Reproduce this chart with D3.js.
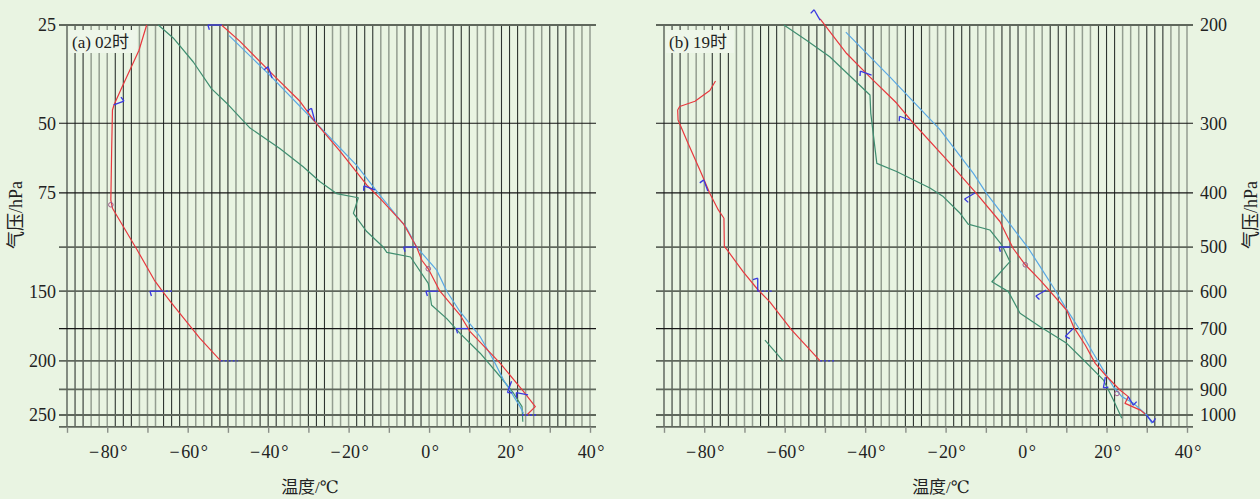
<!DOCTYPE html>
<html>
<head>
<meta charset="utf-8">
<script src="https://cdn.jsdelivr.net/npm/d3@7"></script>
<style>
  body { margin: 0; background: #e9f4e2; }
  svg { display: block; }
  text { font-family: "Liberation Serif", "DejaVu Serif", "Noto Sans CJK SC", serif; fill: #222; }
</style>
</head>
<body>
<svg id="chart" width="1260" height="499"></svg>
<script>
// pressure levels (hPa) and tick labels
var gridPressures = [200, 300, 400, 500, 600, 700, 800, 900, 1000, 1050];
var darkPressures = [300, 400, 700];
var leftLabelLevels = [200, 300, 400, 600, 800, 1000];
var leftLabels = ['25', '50', '75', '150', '200', '250'];
var rightLabelLevels = [200, 300, 400, 500, 600, 700, 800, 900, 1000];
var tempTicks = [-90, -80, -70, -60, -50, -40, -30, -20, -10, 0, 10, 20, 30, 40];
var tempLabels = [-80, -60, -40, -20, 0, 20, 40];

// (a) 02时  [temperature degC, pressure hPa]
var aRedUpper = [[-70.2, 200], [-72.1, 222], [-76.4, 259], [-78.3, 278], [-78.7, 284], [-78.9, 335],
  [-79.1, 412], [-78.7, 426], [-72.7, 504], [-68.3, 573], [-66.3, 600], [-64.0, 630], [-60.3, 680],
  [-57.0, 728], [-51.8, 800]];
var aRed = [[-51.6, 200], [-47.0, 214], [-38.7, 246], [-32.1, 274], [-28.4, 298], [-22.1, 337],
  [-15.5, 387], [-12.2, 409], [-6.3, 455], [-3.1, 500], [-1.8, 528], [-0.2, 547], [2.7, 600],
  [7.7, 662], [10.2, 709], [17.7, 808], [23.5, 908], [26.4, 966], [24.3, 1000]];
var aBlue = [[-49.7, 209], [-39.6, 246], [-28.8, 296], [-18.0, 357], [-12.2, 404], [-5.5, 463],
  [-3.1, 500], [1.9, 550], [4.4, 600], [7.7, 653], [12.7, 724], [16.0, 797], [18.5, 865],
  [22.6, 966], [23.5, 994]];
var aGreen = [[-67.3, 200], [-63.6, 211], [-58.6, 233], [-54.1, 260], [-49.9, 278], [-44.5, 306],
  [-37.1, 333], [-31.3, 359], [-27.1, 382], [-23.0, 401], [-17.6, 408], [-18.8, 435], [-15.5, 469],
  [-11.4, 500], [-10.5, 511], [-4.6, 521], [-0.2, 581], [0.2, 605], [0.6, 635], [4.4, 672],
  [7.7, 714], [12.7, 775], [17.7, 854], [21.0, 914], [23.1, 966], [23.3, 1028]];

// (b) 19时
var bRedUpper = [[-77.2, 252], [-78.6, 262], [-82.3, 274], [-86.1, 280], [-86.6, 284], [-86.5, 296],
  [-84.0, 326], [-80.7, 369], [-78.6, 401], [-76.5, 429], [-75.1, 444], [-75.0, 499], [-74.3, 506],
  [-70.3, 554], [-66.6, 597], [-63.7, 627], [-58.3, 704], [-51.2, 800]];
var bGreenUpper = [[-64.9, 734], [-60.4, 800]];
var bRed = [[-51.2, 195], [-44.6, 225], [-38.8, 248], [-32.2, 276], [-28.0, 300], [-18.9, 354],
  [-12.3, 401], [-6.5, 450], [-3.2, 503], [-0.2, 538], [3.5, 573], [10.1, 649], [11.8, 695],
  [14.7, 749], [17.2, 808], [20.1, 854], [23.4, 903], [25.4, 927], [24.6, 953], [28.4, 980],
  [29.6, 996]];
var bBlue = [[-44.8, 206], [-33.8, 248], [-21.4, 308], [-13.1, 369], [-9.8, 401], [-4.8, 447],
  [0.6, 503], [3.5, 542], [7.2, 597], [9.7, 640], [13.4, 704], [16.7, 775], [19.7, 842],
  [21.7, 890], [23.8, 927], [26.7, 953], [30.0, 1000], [31.3, 1035]];
var bGreen = [[-60.2, 200], [-54.6, 213], [-48.8, 228], [-38.8, 267], [-38.6, 288], [-37.1, 354],
  [-32.2, 366], [-23.9, 392], [-20.6, 406], [-16.4, 435], [-14.4, 455], [-9.0, 466], [-6.0, 496],
  [-4.0, 531], [-8.5, 577], [-4.4, 601], [-1.5, 657], [3.5, 695], [10.1, 744], [14.3, 797],
  [19.2, 865], [21.7, 940], [23.8, 1014]];

// wind barbs: [temperature, pressure, staff angle (deg), staff length, feather(1/0)]
var aBarbs = [[-51.5, 200, 180, 14, 1], [-39, 249, -110, 12, 1], [-28.4, 297, -105, 13, 1],
  [-13.4, 395, 200, 12, 1], [-3.1, 500, 180, 13, 1], [2.2, 600, 180, 12, 1], [9.7, 700, 180, 12, 1],
  [20.5, 870, 110, 12, 1], [24.6, 920, 190, 12, 1], [23.1, 1000, 0, 15, 0],
  [-78.4, 278, -20, 11, 1], [-66.4, 600, 180, 12, 1], [-66.4, 600, 0, 12, 0], [-51.8, 800, 0, 17, 0]];
var bBarbs = [[-51.2, 196, -120, 12, 1], [-38.4, 246, 200, 12, 1], [-28.9, 296, 200, 11, 1],
  [-12.7, 400, 150, 12, 1], [-4.0, 500, 180, 11, 1], [5.0, 597, 150, 12, 1], [11.7, 700, 135, 11, 1],
  [19.7, 855, 100, 11, 1], [25.4, 927, 60, 10, 1], [29.9, 1000, 50, 10, 1],
  [-79.1, 397, -110, 12, 1], [-66.7, 600, -90, 13, 1], [-66.7, 600, 0, 14, 0], [-51.2, 800, 0, 15, 0]];

var aMarks = [[-0.2, 547], [-79.1, 420]];
var bMarks = [[-0.2, 538], [22.6, 915]];

var svg = d3.select('#chart');
svg.append('rect').attr('width', 1260).attr('height', 499).attr('fill', '#e9f4e2');

var y = d3.scaleLog().domain([200, 1000]).range([25, 415]);

function drawPanel(opt) {
  var x = d3.scaleLinear().domain([-90, 40]).range(opt.range);
  var g = svg.append('g');

  // vertical isotherms every 2 degrees, dark and grey in runs of three
  g.selectAll('line.v').data(d3.range(-90, 41, 2)).enter().append('line')
    .attr('x1', function (d) { return x(d); }).attr('x2', function (d) { return x(d); })
    .attr('y1', y(200)).attr('y2', y(1050))
    .attr('stroke', function (d, i) { return Math.floor(i / 3) % 2 ? '#939d90' : '#2e3530'; })
    .attr('stroke-width', function (d, i) { return Math.floor(i / 3) % 2 ? 1.5 : 1.1; });

  // isobars
  g.selectAll('line.h').data(gridPressures).enter().append('line')
    .attr('x1', x(-90) - 8).attr('x2', x(40) + 6)
    .attr('y1', function (d) { return y(d); }).attr('y2', function (d) { return y(d); })
    .attr('stroke', function (d) { return darkPressures.indexOf(d) >= 0 ? '#151515' : '#5f675c'; })
    .attr('stroke-width', function (d) { return darkPressures.indexOf(d) >= 0 ? 1.2 : 1.8; });

  // bottom axis
  var axis = d3.axisBottom(x).tickValues(tempTicks).tickSize(6).tickFormat('');
  var ax = g.append('g').attr('transform', 'translate(0,' + y(1050) + ')').call(axis);
  ax.select('.domain').remove();
  ax.selectAll('line').attr('stroke', '#8a8f88').attr('stroke-width', 1.4);

  g.selectAll('text.tx').data(tempLabels).enter().append('text')
    .attr('x', function (d) { return x(d) + 1; }).attr('y', 458)
    .attr('text-anchor', 'middle').attr('font-size', 18)
    .text(function (d) { return (d < 0 ? '\u2212\u200a' + (-d) : d) + '\u200a\u00b0'; });

  g.append('text').attr('x', opt.xTitle).attr('y', 493).attr('text-anchor', 'middle')
    .attr('font-size', 17).text('温度/℃');

  // panel label
  g.append('rect').attr('x', x(-90) + 2).attr('y', 30).attr('width', 68).attr('height', 23)
    .attr('fill', '#eef6ea');
  g.append('text').attr('x', x(-90) + 5).attr('y', 48).attr('font-size', 17).text(opt.label);

  var line = d3.line().x(function (d) { return x(d[0]); }).y(function (d) { return y(d[1]); });

  opt.series.forEach(function (s) {
    g.append('path').datum(s.data).attr('d', line).attr('fill', 'none')
      .attr('stroke', s.color).attr('stroke-width', 1.2).attr('stroke-linejoin', 'round');
  });

  // wind barbs
  opt.barbs.forEach(function (b) {
    var x0 = x(b[0]), y0 = y(b[1]);
    var a = b[2] * Math.PI / 180;
    var x1 = x0 + b[3] * Math.cos(a), y1 = y0 + b[3] * Math.sin(a);
    g.append('line').attr('x1', x0).attr('y1', y0).attr('x2', x1).attr('y2', y1)
      .attr('stroke', '#3838e0').attr('stroke-width', 1.3)
      .attr('stroke-dasharray', b[4] ? null : '2,2');
    if (b[4]) {
      var fa = a - Math.PI / 2 - 0.3;
      g.append('line').attr('x1', x1).attr('y1', y1)
        .attr('x2', x1 + 5 * Math.cos(fa)).attr('y2', y1 + 5 * Math.sin(fa))
        .attr('stroke', '#3838e0').attr('stroke-width', 1.3);
    }
  });

  g.selectAll('circle.m').data(opt.marks).enter().append('circle')
    .attr('cx', function (d) { return x(d[0]); }).attr('cy', function (d) { return y(d[1]); })
    .attr('r', 2.3).attr('fill', 'none').attr('stroke', '#a05a8a').attr('stroke-width', 1);

  return x;
}

drawPanel({
  range: [67, 590], xTitle: 310, label: '(a) 02时',
  series: [
    { data: aGreen, color: '#3f8e70' },
    { data: aBlue, color: '#5aa8e4' },
    { data: aRed, color: '#e8383e' },
    { data: aRedUpper, color: '#e8383e' }
  ],
  barbs: aBarbs, marks: aMarks
});

drawPanel({
  range: [664, 1187], xTitle: 941, label: '(b) 19时',
  series: [
    { data: bGreen, color: '#3f8e70' },
    { data: bGreenUpper, color: '#3f8e70' },
    { data: bBlue, color: '#5aa8e4' },
    { data: bRed, color: '#e8383e' },
    { data: bRedUpper, color: '#e8383e' }
  ],
  barbs: bBarbs, marks: bMarks
});

// pressure labels
svg.selectAll('text.yl').data(leftLabelLevels).enter().append('text')
  .attr('x', 56).attr('y', function (d) { return y(d); }).attr('dy', '0.35em')
  .attr('text-anchor', 'end').attr('font-size', 18)
  .text(function (d, i) { return leftLabels[i]; });

svg.selectAll('text.yr').data(rightLabelLevels).enter().append('text')
  .attr('x', 1200).attr('y', function (d) { return y(d); }).attr('dy', '0.35em')
  .attr('font-size', 18).text(function (d) { return d; });

svg.append('text').attr('transform', 'translate(22,215) rotate(-90)')
  .attr('text-anchor', 'middle').attr('font-size', 18).text('气压/hPa');
svg.append('text').attr('transform', 'translate(1257,215) rotate(-90)')
  .attr('text-anchor', 'middle').attr('font-size', 18).text('气压/hPa');
</script>
</body>
</html>
